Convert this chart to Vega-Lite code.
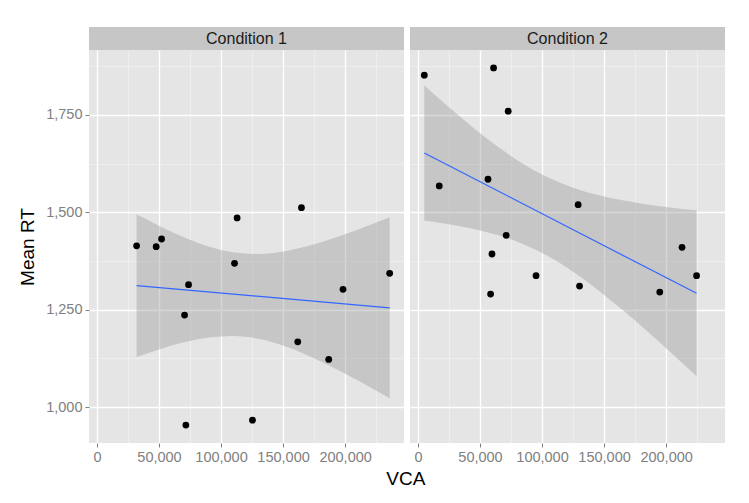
{
  "$schema": "https://vega.github.io/schema/vega-lite/v6.json",
  "padding": {"left": 18, "top": 27, "right": 5, "bottom": 5},
  "background": "white",
  "title": {
    "text": "VCA",
    "orient": "bottom",
    "anchor": "middle",
    "font": "Liberation Sans",
    "fontSize": 19,
    "fontWeight": "normal",
    "color": "black",
    "offset": 6,
    "dx": 34
  },
  "config": {
    "font": "Liberation Sans",
    "view": {"stroke": null},
    "axis": {
      "labelFont": "Liberation Sans",
      "labelFontSize": 14.5,
      "labelColor": "#7F7F7F",
      "tickColor": "#7F7F7F",
      "tickSize": 4,
      "labelPadding": 3,
      "domain": false,
      "titleFont": "Liberation Sans",
      "titleFontSize": 19,
      "titleFontWeight": "normal",
      "titleColor": "black"
    }
  },
  "datasets": {
    "points": [
      {"condition": "Condition 1", "VCA": 31960, "RT": 1414},
      {"condition": "Condition 1", "VCA": 47750, "RT": 1411.6},
      {"condition": "Condition 1", "VCA": 52090, "RT": 1431.4},
      {"condition": "Condition 1", "VCA": 112960, "RT": 1485.4},
      {"condition": "Condition 1", "VCA": 164810, "RT": 1511.8},
      {"condition": "Condition 1", "VCA": 110870, "RT": 1369},
      {"condition": "Condition 1", "VCA": 235910, "RT": 1343.3},
      {"condition": "Condition 1", "VCA": 73830, "RT": 1314},
      {"condition": "Condition 1", "VCA": 198310, "RT": 1302.2},
      {"condition": "Condition 1", "VCA": 70610, "RT": 1236},
      {"condition": "Condition 1", "VCA": 161830, "RT": 1167.5},
      {"condition": "Condition 1", "VCA": 186790, "RT": 1122.3},
      {"condition": "Condition 1", "VCA": 71660, "RT": 953.5},
      {"condition": "Condition 1", "VCA": 125360, "RT": 966.3},
      {"condition": "Condition 2", "VCA": 5130, "RT": 1852},
      {"condition": "Condition 2", "VCA": 60950, "RT": 1870.8},
      {"condition": "Condition 2", "VCA": 72730, "RT": 1759.5},
      {"condition": "Condition 2", "VCA": 17160, "RT": 1567.6},
      {"condition": "Condition 2", "VCA": 56460, "RT": 1584.8},
      {"condition": "Condition 2", "VCA": 129110, "RT": 1519.5},
      {"condition": "Condition 2", "VCA": 71130, "RT": 1440.9},
      {"condition": "Condition 2", "VCA": 212830, "RT": 1410},
      {"condition": "Condition 2", "VCA": 59660, "RT": 1392.9},
      {"condition": "Condition 2", "VCA": 95190, "RT": 1337.1},
      {"condition": "Condition 2", "VCA": 130230, "RT": 1310.6},
      {"condition": "Condition 2", "VCA": 58540, "RT": 1290.1},
      {"condition": "Condition 2", "VCA": 194870, "RT": 1295.2},
      {"condition": "Condition 2", "VCA": 224540, "RT": 1337.1}
    ],
    "band": [
      {"condition": "Condition 1", "VCA": 31960, "lo": 1128.4, "hi": 1495.0},
      {"condition": "Condition 1", "VCA": 50000, "lo": 1147.8, "hi": 1465.4},
      {"condition": "Condition 1", "VCA": 70000, "lo": 1166.0, "hi": 1436.0},
      {"condition": "Condition 1", "VCA": 90000, "lo": 1178.5, "hi": 1412.3},
      {"condition": "Condition 1", "VCA": 110000, "lo": 1182.4, "hi": 1397.2},
      {"condition": "Condition 1", "VCA": 130000, "lo": 1175.4, "hi": 1393.0},
      {"condition": "Condition 1", "VCA": 150000, "lo": 1157.8, "hi": 1399.4},
      {"condition": "Condition 1", "VCA": 170000, "lo": 1132.5, "hi": 1413.6},
      {"condition": "Condition 1", "VCA": 190000, "lo": 1102.1, "hi": 1432.9},
      {"condition": "Condition 1", "VCA": 210000, "lo": 1068.5, "hi": 1455.3},
      {"condition": "Condition 1", "VCA": 235910, "lo": 1022.2, "hi": 1487.0},
      {"condition": "Condition 2", "VCA": 5130, "lo": 1478.9, "hi": 1825.3},
      {"condition": "Condition 2", "VCA": 25000, "lo": 1469.5, "hi": 1769.5},
      {"condition": "Condition 2", "VCA": 45000, "lo": 1457.4, "hi": 1716.0},
      {"condition": "Condition 2", "VCA": 65000, "lo": 1440.8, "hi": 1666.8},
      {"condition": "Condition 2", "VCA": 85000, "lo": 1418.1, "hi": 1623.9},
      {"condition": "Condition 2", "VCA": 105000, "lo": 1387.1, "hi": 1589.2},
      {"condition": "Condition 2", "VCA": 125000, "lo": 1347.5, "hi": 1563.2},
      {"condition": "Condition 2", "VCA": 145000, "lo": 1300.6, "hi": 1544.4},
      {"condition": "Condition 2", "VCA": 165000, "lo": 1248.8, "hi": 1530.6},
      {"condition": "Condition 2", "VCA": 185000, "lo": 1193.6, "hi": 1520.2},
      {"condition": "Condition 2", "VCA": 205000, "lo": 1136.2, "hi": 1511.8},
      {"condition": "Condition 2", "VCA": 224540, "lo": 1078.9, "hi": 1505.0}
    ],
    "strips": [
      {"condition": "Condition 1"},
      {"condition": "Condition 2"}
    ]
  },
  "spacing": 6,
  "hconcat": [
    {
      "spacing": 0,
      "vconcat": [
        {
          "data": {"name": "strips"},
          "transform": [{"filter": "datum.condition == 'Condition 1'"}],
          "width": 315,
          "height": 23,
          "view": {"fill": "#C6C6C6", "stroke": null},
          "mark": {"type": "text", "font": "Liberation Sans", "fontSize": 16, "color": "#1A1A1A"},
          "encoding": {"text": {"field": "condition", "type": "nominal"}}
        },
        {
          "width": 315,
          "height": 393,
          "view": {"fill": "#E5E5E5", "stroke": null},
          "encoding": {
            "x": {
              "field": "VCA",
              "type": "quantitative",
              "scale": {"domain": [-6400, 247450], "nice": false, "zero": false},
              "axis": {
                "title": null,
                "values": [0, 25000, 50000, 75000, 100000, 125000, 150000, 175000, 200000, 225000],
                "labelExpr": "datum.value % 50000 === 0 ? format(datum.value, ',') : ''",
                "tickColor": {"condition": {"test": "datum.value % 50000 === 0", "value": "#7F7F7F"}, "value": "transparent"},
                "gridColor": {"condition": {"test": "datum.value % 50000 === 0", "value": "white"}, "value": "#F2F2F2"},
                "gridWidth": {"condition": {"test": "datum.value % 50000 === 0", "value": 1.3}, "value": 0.7}
              }
            }
          },
          "layer": [
            {
              "data": {"name": "band"},
              "transform": [{"filter": "datum.condition == 'Condition 1'"}],
              "mark": {"type": "area", "interpolate": "monotone", "color": "#999999", "opacity": 0.4},
              "encoding": {
                "y": {
                  "field": "lo",
                  "type": "quantitative",
                  "scale": {"domain": [907.6, 1916.7], "nice": false, "zero": false},
                  "axis": {
                    "title": "Mean RT",
                    "titlePadding": 8,
                    "values": [1000, 1125, 1250, 1375, 1500, 1625, 1750, 1875],
                    "labelExpr": "datum.value % 250 === 0 ? format(datum.value, ',') : ''",
                    "tickColor": {"condition": {"test": "datum.value % 250 === 0", "value": "#7F7F7F"}, "value": "transparent"},
                    "gridColor": {"condition": {"test": "datum.value % 250 === 0", "value": "white"}, "value": "#F2F2F2"},
                    "gridWidth": {"condition": {"test": "datum.value % 250 === 0", "value": 1.3}, "value": 0.7}
                  }
                },
                "y2": {"field": "hi"}
              }
            },
            {
              "data": {"name": "points"},
              "transform": [{"filter": "datum.condition == 'Condition 1'"}],
              "mark": {"type": "circle", "color": "black", "opacity": 1, "size": 46},
              "encoding": {"y": {"field": "RT", "type": "quantitative"}}
            },
            {
              "data": {"name": "points"},
              "transform": [
                {"filter": "datum.condition == 'Condition 1'"},
                {"regression": "RT", "on": "VCA"}
              ],
              "mark": {"type": "line", "color": "#3366FF", "strokeWidth": 1.2},
              "encoding": {"y": {"field": "RT", "type": "quantitative"}}
            }
          ]
        }
      ]
    },
    {
      "spacing": 0,
      "vconcat": [
        {
          "data": {"name": "strips"},
          "transform": [{"filter": "datum.condition == 'Condition 2'"}],
          "width": 315,
          "height": 23,
          "view": {"fill": "#C6C6C6", "stroke": null},
          "mark": {"type": "text", "font": "Liberation Sans", "fontSize": 16, "color": "#1A1A1A"},
          "encoding": {"text": {"field": "condition", "type": "nominal"}}
        },
        {
          "width": 315,
          "height": 393,
          "view": {"fill": "#E5E5E5", "stroke": null},
          "encoding": {
            "x": {
              "field": "VCA",
              "type": "quantitative",
              "scale": {"domain": [-6400, 247450], "nice": false, "zero": false},
              "axis": {
                "title": null,
                "values": [0, 25000, 50000, 75000, 100000, 125000, 150000, 175000, 200000, 225000],
                "labelExpr": "datum.value % 50000 === 0 ? format(datum.value, ',') : ''",
                "tickColor": {"condition": {"test": "datum.value % 50000 === 0", "value": "#7F7F7F"}, "value": "transparent"},
                "gridColor": {"condition": {"test": "datum.value % 50000 === 0", "value": "white"}, "value": "#F2F2F2"},
                "gridWidth": {"condition": {"test": "datum.value % 50000 === 0", "value": 1.3}, "value": 0.7}
              }
            }
          },
          "layer": [
            {
              "data": {"name": "band"},
              "transform": [{"filter": "datum.condition == 'Condition 2'"}],
              "mark": {"type": "area", "interpolate": "monotone", "color": "#999999", "opacity": 0.4},
              "encoding": {
                "y": {
                  "field": "lo",
                  "type": "quantitative",
                  "scale": {"domain": [907.6, 1916.7], "nice": false, "zero": false},
                  "axis": {
                    "title": null,
                    "labels": false,
                    "ticks": false,
                    "values": [1000, 1125, 1250, 1375, 1500, 1625, 1750, 1875],
                    "gridColor": {"condition": {"test": "datum.value % 250 === 0", "value": "white"}, "value": "#F2F2F2"},
                    "gridWidth": {"condition": {"test": "datum.value % 250 === 0", "value": 1.3}, "value": 0.7}
                  }
                },
                "y2": {"field": "hi"}
              }
            },
            {
              "data": {"name": "points"},
              "transform": [{"filter": "datum.condition == 'Condition 2'"}],
              "mark": {"type": "circle", "color": "black", "opacity": 1, "size": 46},
              "encoding": {"y": {"field": "RT", "type": "quantitative"}}
            },
            {
              "data": {"name": "points"},
              "transform": [
                {"filter": "datum.condition == 'Condition 2'"},
                {"regression": "RT", "on": "VCA"}
              ],
              "mark": {"type": "line", "color": "#3366FF", "strokeWidth": 1.2},
              "encoding": {"y": {"field": "RT", "type": "quantitative"}}
            }
          ]
        }
      ]
    }
  ]
}
